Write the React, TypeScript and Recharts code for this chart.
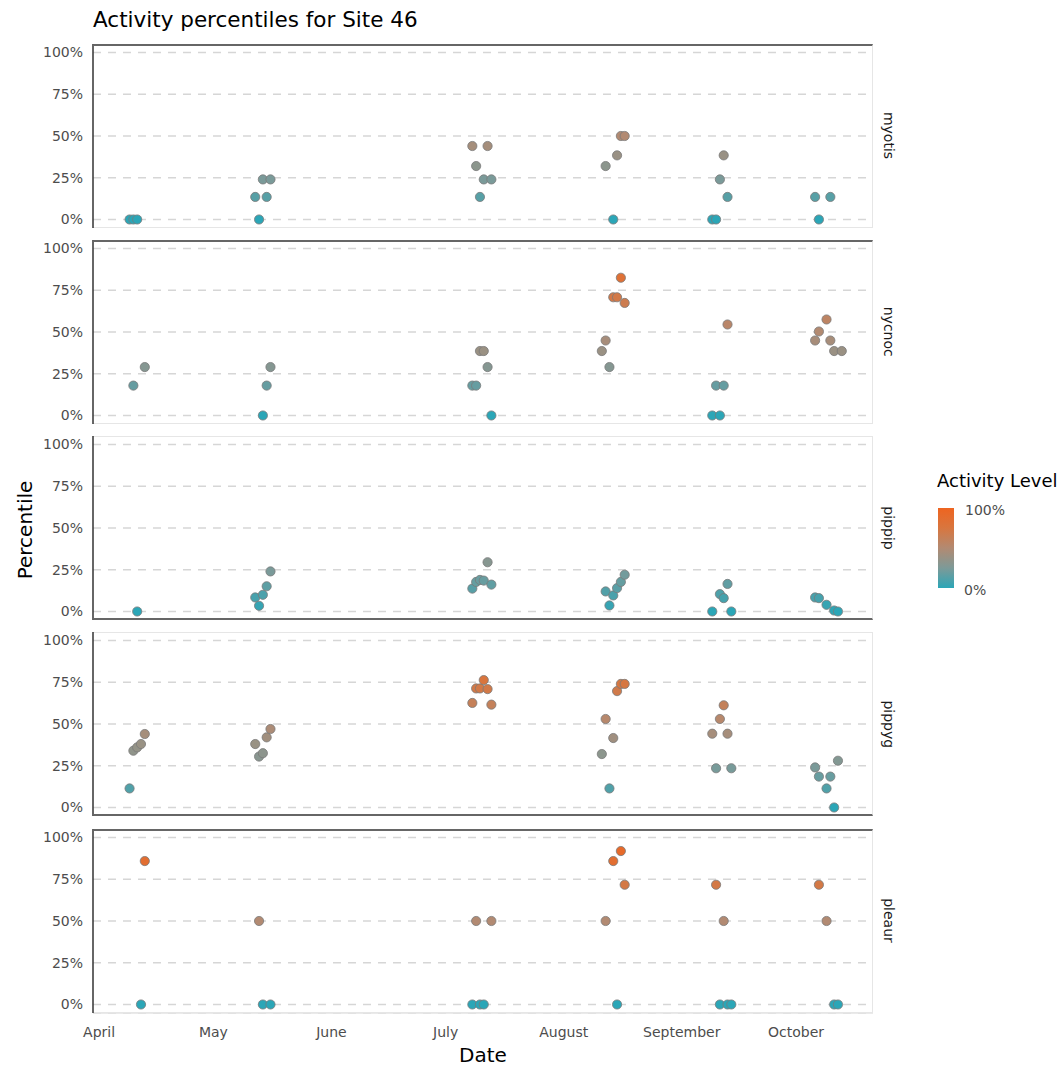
import React from 'react';
import { ScatterChart, Scatter, XAxis, YAxis, CartesianGrid } from 'recharts';

// facets, top to bottom
const species = ['myotis', 'nycnoc', 'pippip', 'pippyg', 'pleaur'];

const months = ['April', 'May', 'June', 'July', 'August', 'September', 'October'];
const monthStarts = ['04-01', '05-01', '06-01', '07-01', '08-01', '09-01', '10-01'];
const yTicks = [0, 25, 50, 75, 100];

// survey nights (MM-DD) and percentile per species
const myotisDates = [
  '04-09', '04-10', '04-11', '05-12', '05-13', '05-14', '05-15', '05-16',
  '07-08', '07-09', '07-10', '07-11', '07-12', '07-13',
  '08-12', '08-14', '08-15', '08-16', '08-17',
  '09-09', '09-10', '09-11', '09-12', '09-13', '10-06', '10-07', '10-10',
];
const myotisPct = [
  0, 0, 0, 13.5, 0, 24, 13.5, 24,
  44, 32, 13.5, 24, 44, 24,
  32, 0, 38.4, 50, 50,
  0, 0, 24, 38.4, 13.5, 13.5, 0, 13.5,
];

const nycnocDates = [
  '04-10', '04-13', '05-14', '05-15', '05-16',
  '07-08', '07-09', '07-10', '07-11', '07-12', '07-13',
  '08-11', '08-12', '08-13', '08-14', '08-15', '08-16', '08-17',
  '09-09', '09-10', '09-11', '09-12', '09-13',
  '10-06', '10-07', '10-09', '10-10', '10-11', '10-13',
];
const nycnocPct = [
  17.9, 29, 0, 17.9, 29,
  17.9, 17.9, 38.6, 38.6, 29, 0,
  38.6, 44.9, 29, 70.8, 70.8, 82.5, 67.4,
  0, 17.9, 0, 17.9, 54.5,
  44.9, 50.3, 57.5, 44.9, 38.6, 38.6,
];

const pippipDates = [
  '04-11', '05-12', '05-13', '05-14', '05-15', '05-16',
  '07-08', '07-09', '07-10', '07-11', '07-12', '07-13',
  '08-12', '08-13', '08-14', '08-15', '08-16', '08-17',
  '09-09', '09-11', '09-12', '09-13', '09-14',
  '10-06', '10-07', '10-09', '10-11', '10-12',
];
const pippipPct = [
  0, 8.4, 3.4, 10, 15.1, 24,
  13.7, 17.7, 18.9, 18.5, 29.5, 16.1,
  12, 3.6, 9.6, 14, 17.7, 22,
  0, 10.4, 8, 16.5, 0,
  8.4, 8, 4, 0.6, 0,
];

const pippygDates = [
  '04-09', '04-10', '04-11', '04-12', '04-13',
  '05-12', '05-13', '05-14', '05-15', '05-16',
  '07-08', '07-09', '07-10', '07-11', '07-12', '07-13',
  '08-11', '08-12', '08-13', '08-14', '08-15', '08-16', '08-17',
  '09-09', '09-10', '09-11', '09-12', '09-13', '09-14',
  '10-06', '10-07', '10-09', '10-10', '10-11', '10-12',
];
const pippygPct = [
  11.4, 34, 36, 38, 44,
  38, 30.5, 32.5, 42, 47,
  62.6, 71.3, 71.3, 76.3, 70.9, 61.6,
  32, 53, 11.4, 41.6, 69.7, 74, 74,
  44.2, 23.5, 53, 61.2, 44.2, 23.5,
  24, 18.5, 11.4, 18.5, 0, 28,
];

const pleaurDates = [
  '04-12', '04-13', '05-13', '05-14', '05-16',
  '07-08', '07-09', '07-10', '07-11', '07-13',
  '08-12', '08-14', '08-15', '08-16', '08-17',
  '09-10', '09-11', '09-12', '09-13', '09-14',
  '10-07', '10-09', '10-11', '10-12',
];
const pleaurPct = [
  0, 85.9, 50, 0, 0,
  0, 50, 0, 0, 50,
  50, 85.9, 0, 91.9, 71.7,
  71.7, 0, 50, 0, 0,
  71.7, 50, 0, 0,
];

const seriesDates = [myotisDates, nycnocDates, pippipDates, pippygDates, pleaurDates];
const seriesPct = [myotisPct, nycnocPct, pippipPct, pippygPct, pleaurPct];

// layout
const FONT = '"DejaVu Sans", sans-serif';
const PLOT_LEFT = 93;
const PLOT_W = 780;
const PANEL_TOP = 43.5;
const PANEL_STEP = 196.25;
const PANEL_H = 184;
const AXIS_H = 40;
const X_DOMAIN = [-1.6, 203.2];
const Y_DOMAIN = [-5.1, 105.1];
const darkTop = [true, true, false, false, true];
const darkBottom = [false, false, true, true, false];

// teal -> orange fill scale
const colorStops = ['#2ba6b7', '#7d9a98', '#b28a72', '#d8763f', '#ee6420'];

const hexToRgb = (h: string) => [1, 3, 5].map((i) => parseInt(h.slice(i, i + 2), 16));
const colorFor = (pct: number) => {
  const t = Math.max(0, Math.min(1, pct / 100)) * (colorStops.length - 1);
  const i = Math.min(Math.floor(t), colorStops.length - 2);
  const f = t - i;
  const a = hexToRgb(colorStops[i]);
  const b = hexToRgb(colorStops[i + 1]);
  const c = a.map((v, k) => Math.round(v + (b[k] - v) * f));
  return `rgb(${c[0]},${c[1]},${c[2]})`;
};

const dayIndex = (md: string) => {
  const [m, d] = md.split('-').map(Number);
  return (Date.UTC(2023, m - 1, d) - Date.UTC(2023, 3, 1)) / 86400000;
};
const monthTicks = monthStarts.map(dayIndex);

const Dot = (props: any) => (
  <circle cx={props.cx} cy={props.cy} r={4.6} fill={props.payload.fill} stroke="#7a7a7a" strokeWidth={0.8} />
);

function Panel({ index }: { index: number }) {
  const last = index === species.length - 1;
  const top = PANEL_TOP + index * PANEL_STEP;
  const data = seriesDates[index].map((d, i) => ({
    x: dayIndex(d),
    y: seriesPct[index][i],
    fill: colorFor(seriesPct[index][i]),
  }));

  return (
    <div style={{ position: 'absolute', left: 0, top }}>
      <div style={{ position: 'absolute', left: 0, top: 0 }}>
        <ScatterChart
          width={PLOT_LEFT + PLOT_W}
          height={PANEL_H + (last ? AXIS_H : 0)}
          margin={{ top: 0, right: 0, bottom: 0, left: 0 }}
        >
          <CartesianGrid
            vertical={false}
            strokeDasharray="8 7"
            stroke="#d6d6d6"
            strokeWidth={1.5}
          />
          <XAxis
            type="number"
            dataKey="x"
            domain={X_DOMAIN}
            ticks={monthTicks}
            interval={0}
            allowDataOverflow
            hide={!last}
            height={last ? AXIS_H : 0}
            tickFormatter={(v) => months[monthTicks.indexOf(v)] ?? ''}
            axisLine={{ stroke: '#e3e3e3', strokeWidth: 1.5 }}
            tickLine={false}
            tickSize={6}
            tickMargin={8}
            tick={{ fill: '#4d4d4d', fontSize: 14, fontFamily: FONT }}
          />
          <YAxis
            type="number"
            dataKey="y"
            domain={Y_DOMAIN}
            ticks={yTicks}
            interval={0}
            allowDataOverflow
            width={PLOT_LEFT}
            tickFormatter={(v) => `${v}%`}
            axisLine={{ stroke: '#333333', strokeWidth: 1.5 }}
            tickLine={false}
            tickSize={6}
            tickMargin={4}
            tick={{ fill: '#4d4d4d', fontSize: 14, fontFamily: FONT }}
          />
          <Scatter data={data} shape={Dot} isAnimationActive={false} />
        </ScatterChart>
      </div>
      {/* panel frame drawn over the grid */}
      <div
        style={{
          position: 'absolute',
          left: PLOT_LEFT + 1,
          top: 0,
          width: PLOT_W - 1,
          height: PANEL_H,
          boxSizing: 'border-box',
          pointerEvents: 'none',
          borderRight: '1px solid #e6e6e6',
          borderTop: darkTop[index] ? '2px solid #666666' : '1px solid #e6e6e6',
          borderBottom: darkBottom[index] ? '2px solid #666666' : '1px solid #e6e6e6',
        }}
      />
    </div>
  );
}

export default function App() {
  return (
    <div style={{ position: 'absolute', left: 0, top: 0, width: 1061, height: 1067, background: '#fff' }}>
      <svg width={1061} height={1067} style={{ position: 'absolute', left: 0, top: 0 }} fontFamily={FONT}>
        <defs>
          <linearGradient id="activity" x1="0" y1="1" x2="0" y2="0">
            {colorStops.map((c, i) => (
              <stop key={c} offset={`${(i / (colorStops.length - 1)) * 100}%`} stopColor={c} />
            ))}
          </linearGradient>
        </defs>
        <text x={93} y={27} fontSize={21.5} fill="#000">Activity percentiles for Site 46</text>
        <text transform="translate(25, 530) rotate(-90)" textAnchor="middle" dominantBaseline="central" fontSize={20} fill="#000">
          Percentile
        </text>
        <text x={483} y={1062} textAnchor="middle" fontSize={20} fill="#000">Date</text>
        {species.map((s, i) => (
          <text
            key={s}
            transform={`translate(889, ${PANEL_TOP + i * PANEL_STEP + PANEL_H / 2}) rotate(90)`}
            textAnchor="middle"
            dominantBaseline="central"
            fontSize={14}
            fill="#1a1a1a"
          >
            {s}
          </text>
        ))}
        <text x={937} y={487} fontSize={18} fill="#000">Activity Level</text>
        <rect x={938} y={508} width={16} height={80} fill="url(#activity)" />
        <text x={965} y={515} fontSize={14} fill="#4d4d4d">100%</text>
        <text x={964} y={595} fontSize={14} fill="#4d4d4d">0%</text>
      </svg>
      {species.map((s, i) => (
        <Panel key={s} index={i} />
      ))}
    </div>
  );
}
